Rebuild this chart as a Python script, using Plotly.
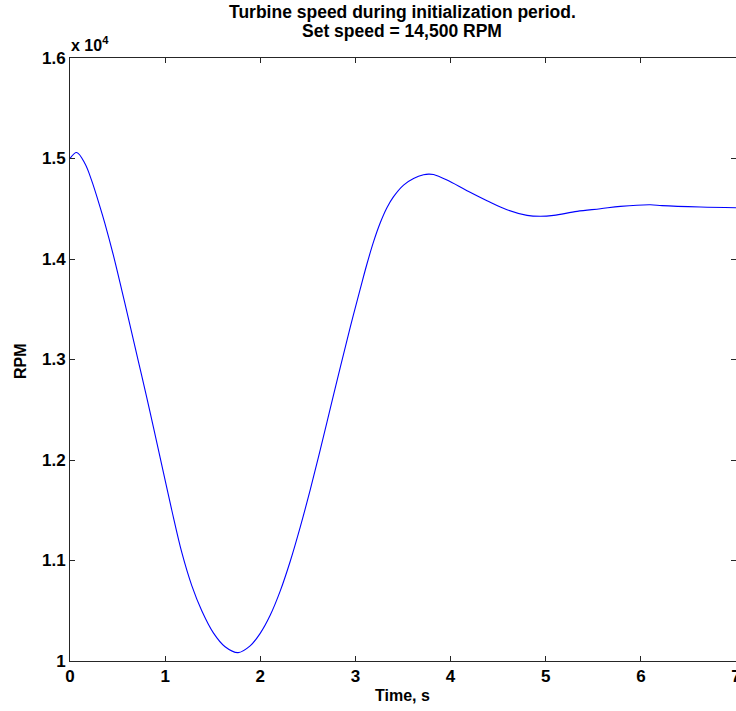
import plotly.graph_objects as go

# Data
time_s = [0.0, 0.07, 0.158, 0.228, 0.316, 0.368, 0.455, 0.544, 0.631, 0.718,
          0.807, 0.876, 0.981, 1.070, 1.175, 1.280, 1.385, 1.507, 1.630, 1.767,
          1.893, 1.999, 2.104, 2.209, 2.314, 2.419, 2.524, 2.630, 2.735, 2.840,
          2.945, 3.050, 3.121, 3.190, 3.261, 3.331, 3.401, 3.506, 3.611, 3.716,
          3.770, 3.821, 3.962, 4.173, 4.383,
          4.593, 4.804, 4.944, 5.084, 5.330, 5.575, 5.785, 6.101, 6.224, 6.627, 7.0]
rpm = [15000, 15060, 14948, 14780, 14517, 14350, 14040, 13690, 13340, 12985,
       12620, 12330, 11880, 11500, 11080, 10750, 10500, 10280, 10142, 10083,
       10150, 10275, 10455, 10695, 10990, 11330, 11700, 12100, 12510, 12920,
       13320, 13700, 13950, 14170, 14360, 14510, 14620, 14735, 14800, 14838,
       14845, 14840, 14785, 14680, 14580,
       14490, 14434, 14425, 14434, 14474, 14500, 14524, 14540, 14531, 14517, 14510]

x_tick_vals = [0, 1, 2, 3, 4, 5, 6, 7]
x_tick_text = ["0", "1", "2", "3", "4", "5", "6", "7"]
y_tick_vals = [10000, 11000, 12000, 13000, 14000, 15000, 16000]
y_tick_text = ["1", "1.1", "1.2", "1.3", "1.4", "1.5", "1.6"]

title_line1 = "Turbine speed during initialization period."
title_line2 = "Set speed = 14,500 RPM"
x_label = "Time, s"
y_label = "RPM"
exponent_text = "x 10<sup>4</sup>"

FONT = "Liberation Sans, Arial, sans-serif"
AX_COLOR = "#262626"

W, H = 736, 711
ML, MR, MT, MB = 70, 0, 58, 50
PH = H - MT - MB
PW = W - ML - MR


def py(ypix):
    return 1 + (MT - ypix) / PH


def px(xpix):
    return (xpix - ML) / PW


fig = go.Figure()
fig.add_trace(go.Scatter(
    x=time_s, y=rpm, mode="lines",
    line=dict(color="#0000ff", width=1.1, shape="spline", smoothing=1.0),
    hoverinfo="skip", showlegend=False,
))

axis_common = dict(
    showgrid=False, zeroline=False, showline=True, linecolor=AX_COLOR, linewidth=1,
    mirror="ticks", ticks="inside", ticklen=5, tickcolor=AX_COLOR, tickwidth=1,
    ticklabeloverflow="allow", automargin=False,
    tickfont=dict(family=FONT, size=17, color="#000000", weight="bold"),
)

fig.update_xaxes(range=[0, 7], tickmode="array", tickvals=x_tick_vals,
                 ticktext=x_tick_text, **axis_common)
fig.update_yaxes(range=[10000, 16000], tickmode="array", tickvals=y_tick_vals,
                 ticktext=y_tick_text, **axis_common)

title_font = dict(family=FONT, size=17.5, color="#000000", weight="bold")
label_font = dict(family=FONT, size=16, color="#000000", weight="bold")
annotations = [
    dict(text=title_line1, x=px(402), y=py(12), xref="paper", yref="paper",
         xanchor="center", yanchor="middle", showarrow=False, font=title_font),
    dict(text=title_line2, x=px(402), y=py(31), xref="paper", yref="paper",
         xanchor="center", yanchor="middle", showarrow=False, font=title_font),
    dict(text=x_label, x=px(402), y=py(695), xref="paper", yref="paper",
         xanchor="center", yanchor="middle", showarrow=False, font=label_font),
    dict(text=y_label, x=px(20), y=py(361), xref="paper", yref="paper",
         xanchor="center", yanchor="middle", showarrow=False, textangle=-90,
         font=label_font),
    dict(text=exponent_text, x=px(69), y=py(44), xref="paper", yref="paper",
         xanchor="left", yanchor="middle", showarrow=False,
         font=dict(family=FONT, size=16, color="#000000", weight="bold")),
]

fig.update_layout(
    width=W, height=H,
    margin=dict(l=ML, r=MR, t=MT, b=MB, pad=0, autoexpand=False),
    paper_bgcolor="#ffffff", plot_bgcolor="#ffffff",
    annotations=annotations,
)

fig.write_html("out.html")
